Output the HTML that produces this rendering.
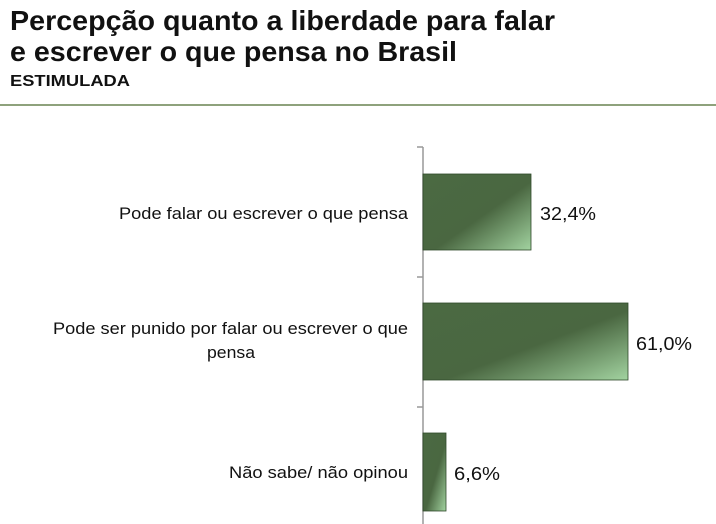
<!DOCTYPE html>
<html><head><meta charset="utf-8"><style>
html,body{margin:0;padding:0;background:#fff;}
svg{display:block;font-family:"Liberation Sans",Arial,sans-serif;}
</style></head><body>
<svg width="716" height="524" viewBox="0 0 716 524" xmlns="http://www.w3.org/2000/svg">
<defs>
<linearGradient id="g" x1="0" y1="0" x2="1" y2="1">
<stop offset="0" stop-color="#4b6a42"/>
<stop offset="0.55" stop-color="#4a6741"/>
<stop offset="1" stop-color="#a2d3a0"/>
</linearGradient>
</defs>
<text x="10" y="30" font-size="28" font-weight="bold" fill="#111" textLength="545" lengthAdjust="spacingAndGlyphs">Percepção quanto a liberdade para falar</text>
<text x="10" y="61" font-size="28" font-weight="bold" fill="#111" textLength="447" lengthAdjust="spacingAndGlyphs">e escrever o que pensa no Brasil</text>
<text x="10" y="86" font-size="16" font-weight="bold" fill="#111" textLength="120" lengthAdjust="spacingAndGlyphs">ESTIMULADA</text>
<rect x="0" y="104" width="716" height="2" fill="#8ea27c"/>
<g stroke="#999" stroke-width="1.5">
<line x1="423" y1="147" x2="423" y2="524"/>
<line x1="417" y1="147" x2="423" y2="147"/>
<line x1="417" y1="277" x2="423" y2="277"/>
<line x1="417" y1="407" x2="423" y2="407"/>
</g>
<rect x="423" y="174" width="108" height="76" fill="url(#g)" stroke="#2f4a2a" stroke-width="0.8"/>
<rect x="423" y="303" width="205" height="77" fill="url(#g)" stroke="#2f4a2a" stroke-width="0.8"/>
<rect x="423" y="433" width="23" height="78" fill="url(#g)" stroke="#2f4a2a" stroke-width="0.8"/>
<g font-size="17" fill="#111">
<text x="119" y="219" textLength="289" lengthAdjust="spacingAndGlyphs">Pode falar ou escrever o que pensa</text>
<text x="53" y="334" textLength="355" lengthAdjust="spacingAndGlyphs">Pode ser punido por falar ou escrever o que</text>
<text x="207" y="358" textLength="48" lengthAdjust="spacingAndGlyphs">pensa</text>
<text x="229" y="478" textLength="179" lengthAdjust="spacingAndGlyphs">Não sabe/ não opinou</text>
</g>
<g font-size="18" fill="#111">
<text x="540" y="220" textLength="56" lengthAdjust="spacingAndGlyphs">32,4%</text>
<text x="636" y="350" textLength="56" lengthAdjust="spacingAndGlyphs">61,0%</text>
<text x="454" y="480" textLength="46" lengthAdjust="spacingAndGlyphs">6,6%</text>
</g>
</svg>
</body></html>
